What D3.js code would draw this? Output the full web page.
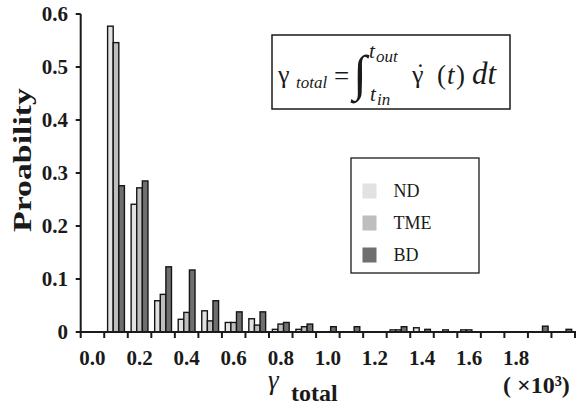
<!DOCTYPE html>
<html>
<head>
<meta charset="utf-8">
<script src="https://cdn.jsdelivr.net/npm/d3@7/dist/d3.min.js"></script>
<style>
  html, body { margin: 0; padding: 0; background: #fff; }
  svg { display: block; }
  text { font-family: "Liberation Serif", "DejaVu Serif", serif; fill: #1a1a1a; }
</style>
</head>
<body>
<svg id="chart" width="587" height="407"></svg>
<script>
// Histogram bins of total shear (x10^3), 0.1 wide
const bins = ["0.0","0.1","0.2","0.3","0.4","0.5","0.6","0.7","0.8","0.9","1.0",
              "1.1","1.2","1.3","1.4","1.5","1.6","1.7","1.8","1.9","2.0"];
const xTickLabels = ["0.0","0.2","0.4","0.6","0.8","1.0","1.2","1.4","1.6","1.8"];
const yTicks = [0, 0.1, 0.2, 0.3, 0.4, 0.5, 0.6];
const yTickLabels = ["0","0.1","0.2","0.3","0.4","0.5","0.6"];

const seriesNames = ["ND", "TME", "BD"];
const seriesColors = ["#e2e2e2", "#bebebe", "#6f6f6f"];
const ND  = [0, 0.577, 0.241, 0.059, 0.024, 0.040, 0.018, 0.025, 0.005, 0.005, 0,
             0, 0, 0.004, 0.008, 0, 0.004, 0, 0, 0, 0];
const TME = [0, 0.546, 0.272, 0.071, 0.037, 0.021, 0.018, 0.013, 0.015, 0.010, 0,
             0, 0, 0.004, 0, 0.004, 0.004, 0, 0, 0, 0];
const BD  = [0, 0.276, 0.285, 0.123, 0.117, 0.059, 0.038, 0.038, 0.018, 0.015, 0.010,
             0.010, 0, 0.010, 0.005, 0, 0, 0, 0, 0.011, 0.005];
const seriesValues = [ND, TME, BD];

const svg = d3.select("#chart");

const x0 = d3.scaleBand().domain(bins).range([80.7, 575]).padding(0);
const x1 = d3.scaleBand().domain(seriesNames).range([0, x0.bandwidth()])
  .paddingInner(0).paddingOuter(0.6);
const y = d3.scaleLinear().domain([0, 0.6]).range([332, 14]);

// bars
const barData = [];
seriesNames.forEach((s, si) => {
  seriesValues[si].forEach((v, i) => {
    if (v > 0) barData.push({ bin: bins[i], series: s, value: v, color: seriesColors[si] });
  });
});
svg.append("g").selectAll("rect").data(barData).join("rect")
  .attr("x", d => x0(d.bin) + x1(d.series))
  .attr("y", d => y(d.value))
  .attr("width", x1.bandwidth())
  .attr("height", d => y(0) - y(d.value))
  .attr("fill", d => d.color)
  .attr("stroke", "#151515")
  .attr("stroke-width", 1.4);

// y axis
const yAxis = svg.append("g");
yAxis.append("line")
  .attr("x1", x0.range()[0]).attr("x2", x0.range()[0])
  .attr("y1", y(0.6)).attr("y2", y(0))
  .attr("stroke", "#1a1a1a").attr("stroke-width", 2);
yAxis.selectAll("line.tick").data(yTicks).join("line").attr("class", "tick")
  .attr("x1", x0.range()[0] - 5).attr("x2", x0.range()[0])
  .attr("y1", d => y(d)).attr("y2", d => y(d))
  .attr("stroke", "#1a1a1a").attr("stroke-width", 2);
yAxis.selectAll("text").data(yTicks).join("text")
  .attr("x", 68).attr("y", d => y(d) + 7)
  .attr("text-anchor", "end")
  .attr("font-size", 21).attr("font-weight", "bold")
  .text((d, i) => yTickLabels[i]);

// x axis
const xAxis = svg.append("g");
xAxis.append("line")
  .attr("x1", x0.range()[0] - 1).attr("x2", x0.range()[1] + 1)
  .attr("y1", y(0)).attr("y2", y(0))
  .attr("stroke", "#1a1a1a").attr("stroke-width", 2);
const boundaries = bins.map(b => x0(b)).concat([x0.range()[1]]);
xAxis.selectAll("line.tick").data(boundaries).join("line").attr("class", "tick")
  .attr("x1", d => d).attr("x2", d => d)
  .attr("y1", y(0)).attr("y2", y(0) + 6)
  .attr("stroke", "#1a1a1a").attr("stroke-width", 2);
xAxis.selectAll("text").data(xTickLabels).join("text")
  .attr("x", d => x0(d) + x0.bandwidth() / 2)
  .attr("y", 365)
  .attr("text-anchor", "middle")
  .attr("font-size", 21).attr("font-weight", "bold")
  .text(d => d);

// axis titles
svg.append("text")
  .attr("transform", "translate(31,160) rotate(-90)")
  .attr("text-anchor", "middle")
  .attr("font-size", 25).attr("font-weight", "bold")
  .attr("textLength", 144).attr("lengthAdjust", "spacingAndGlyphs")
  .text("Proability");

svg.append("text").attr("x", 268).attr("y", 389)
  .attr("font-size", 27).attr("font-style", "italic").text("γ");
svg.append("text").attr("x", 291).attr("y", 401)
  .attr("font-size", 24).attr("font-weight", "bold").text("total");

svg.append("text").attr("x", 503).attr("y", 393)
  .attr("font-size", 24).attr("font-weight", "bold")
  .text("( ×10³)");

// formula box
svg.append("rect").attr("x", 272).attr("y", 35).attr("width", 238).attr("height", 74)
  .attr("fill", "#fff").attr("stroke", "#1a1a1a").attr("stroke-width", 1.5);
const f = svg.append("g");
f.append("text").attr("x", 278).attr("y", 83).attr("font-size", 26).text("γ");
f.append("text").attr("x", 296).attr("y", 88).attr("font-size", 17).attr("font-style", "italic").text("total");
f.append("text").attr("x", 334).attr("y", 85).attr("font-size", 27).text("=");
f.append("text").attr("x", 353).attr("y", 90).attr("font-size", 50).text("∫");
f.append("text").attr("x", 369).attr("y", 58).attr("font-size", 21).attr("font-style", "italic").text("t");
f.append("text").attr("x", 376).attr("y", 62).attr("font-size", 17).attr("font-style", "italic").text("out");
f.append("text").attr("x", 370).attr("y", 101).attr("font-size", 21).attr("font-style", "italic").text("t");
f.append("text").attr("x", 377).attr("y", 105).attr("font-size", 17).attr("font-style", "italic").text("in");
f.append("text").attr("x", 412).attr("y", 83).attr("font-size", 26).text("γ");
f.append("text").attr("x", 416).attr("y", 81).attr("font-size", 26).text("˙");
f.append("text").attr("x", 437).attr("y", 84).attr("font-size", 27).text("(");
f.append("text").attr("x", 447).attr("y", 84).attr("font-size", 27).attr("font-style", "italic").text("t");
f.append("text").attr("x", 456).attr("y", 84).attr("font-size", 27).text(")");
f.append("text").attr("x", 472).attr("y", 84).attr("font-size", 31).attr("font-style", "italic").text("dt");

// legend
svg.append("rect").attr("x", 351).attr("y", 158).attr("width", 128).attr("height", 115)
  .attr("fill", "#fff").attr("stroke", "#1a1a1a").attr("stroke-width", 1.3);
const lg = svg.append("g").selectAll("g").data(seriesNames).join("g")
  .attr("transform", (d, i) => `translate(362.5,${183.5 + i * 32})`);
lg.append("rect").attr("width", 14).attr("height", 15)
  .attr("fill", (d, i) => seriesColors[i]);
lg.append("text").attr("x", 31).attr("y", 13.5).attr("font-size", 18).text(d => d);
</script>
</body>
</html>
